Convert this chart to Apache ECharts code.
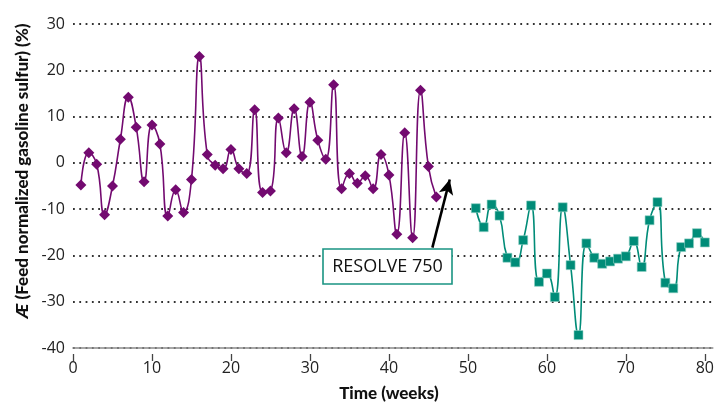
<!DOCTYPE html>
<html>
<head>
<meta charset="utf-8">
<script src="https://cdn.jsdelivr.net/npm/echarts@6/dist/echarts.min.js"></script>
<style>html,body{margin:0;padding:0;background:#fff}#c{width:717px;height:407px}</style>
</head>
<body>
<div id="c"></div>
<script>
// Weeks 1–46 (before RESOLVE 750)
const weeksBefore = [1,2,3,4,5,6,7,8,9,10,11,12,13,14,15,16,17,18,19,20,21,22,23,24,25,26,27,28,29,30,31,32,33,34,35,36,37,38,39,40,41,42,43,44,45,46];
const valuesBefore = [-4.8,2.2,-0.3,-11.2,-5.0,5.1,14.2,7.7,-4.1,8.2,4.1,-11.5,-5.8,-10.7,-3.6,23.0,1.8,-0.5,-1.3,2.9,-1.3,-2.3,11.5,-6.4,-6.1,9.7,2.2,11.7,1.4,13.1,4.9,0.8,16.9,-5.6,-2.3,-4.4,-2.8,-5.6,1.8,-2.6,-15.4,6.5,-16.2,15.7,-0.8,-7.4];
// Weeks 51–80 (with RESOLVE 750)
const weeksAfter = [51,52,53,54,55,56,57,58,59,60,61,62,63,64,65,66,67,68,69,70,71,72,73,74,75,76,77,78,79,80];
const valuesAfter = [-9.8,-13.9,-9.0,-11.4,-20.5,-21.5,-16.7,-9.2,-25.7,-23.9,-29.0,-9.6,-22.1,-37.2,-17.4,-20.5,-21.8,-21.3,-20.7,-20.2,-16.9,-22.5,-12.4,-8.5,-25.9,-27.1,-18.2,-17.4,-15.2,-17.2];
const xTicks = [0,10,20,30,40,50,60,70,80];
const yTicks = [-40,-30,-20,-10,0,10,20,30];
const annotationText = 'RESOLVE 750';
const arrowFrom = [45.5, -18.3];
const arrowTo = [47.7, -3.6];

const purple = '#730a70';
const teal = '#008c78';

const chart = echarts.init(document.getElementById('c'));
chart.setOption({
  animation: false,
  grid: {left: 73, right: 3.3, top: 24, bottom: 57, containLabel: false},
  xAxis: [
    {type: 'value', min: 0, max: 81, position: 'bottom',
     axisLine: {show: true, onZero: false, lineStyle: {color: '#8a8a8a', width: 1.6}},
     axisTick: {show: false}, axisLabel: {show: false}, splitLine: {show: false}},
    {type: 'value', min: 0, max: 81, position: 'bottom', offset: 6,
     axisLine: {show: false, onZero: false},
     axisTick: {show: true, length: 7, customValues: xTicks, lineStyle: {color: '#444', width: 1.3}},
     axisLabel: {show: true, customValues: xTicks, margin: 6, color: '#222', fontSize: 16, fontFamily: 'Open Sans'},
     splitLine: {show: false},
     name: 'Time (weeks)', nameLocation: 'middle', nameGap: 31,
     nameTextStyle: {fontFamily: 'Lato', fontWeight: 900, fontSize: 17, color: '#111', padding: [0, 8, 0, 0]}}
  ],
  yAxis: {
    type: 'value', min: -40, max: 30, interval: 10,
    axisLine: {show: false}, axisTick: {show: false},
    axisLabel: {color: '#222', fontSize: 16, fontFamily: 'Open Sans', margin: 8},
    splitLine: {show: true, lineStyle: {color: '#333', width: 1.8, type: [1.8, 4.5]}},
    name: '{i|Æ} (Feed normalized gasoline sulfur) (%)', nameLocation: 'middle', nameGap: 40,
    nameTextStyle: {fontFamily: 'Lato', fontWeight: 900, fontSize: 17, color: '#111', padding: [0, 0, 0, 30],
      rich: {i: {fontFamily: 'Lato', fontWeight: 900, fontStyle: 'italic', fontSize: 17, color: '#111'}}}
  },
  series: [
    {type: 'line', xAxisIndex: 0, data: weeksBefore.map((w, i) => [w, valuesBefore[i]]),
     smooth: 0.5, symbol: 'diamond', symbolSize: 11,
     lineStyle: {color: purple, width: 1.6}, itemStyle: {color: purple},
     markLine: {silent: true, symbol: ['none', 'arrow'], symbolSize: [11, 15], label: {show: false},
       lineStyle: {color: '#000', width: 2.6, type: 'solid'},
       data: [[{coord: arrowFrom}, {coord: arrowTo}]]}},
    {type: 'line', xAxisIndex: 0, data: weeksAfter.map((w, i) => [w, valuesAfter[i]]),
     smooth: 0.5, symbol: 'rect', symbolSize: 9,
     lineStyle: {color: teal, width: 1.6}, itemStyle: {color: teal, borderColor: '#8fd0c4', borderWidth: 0.6}}
  ],
  graphic: [
    {type: 'rect', z: 100, shape: {x: 323, y: 249, width: 129, height: 35},
     style: {fill: '#fff', stroke: '#1a9482', lineWidth: 1.6}},
    {type: 'text', z: 101, x: 387.5, y: 267,
     style: {text: annotationText, fill: '#111', font: '18px "Open Sans"', textAlign: 'center', textVerticalAlign: 'middle'}}
  ]
});
</script>
</body>
</html>
